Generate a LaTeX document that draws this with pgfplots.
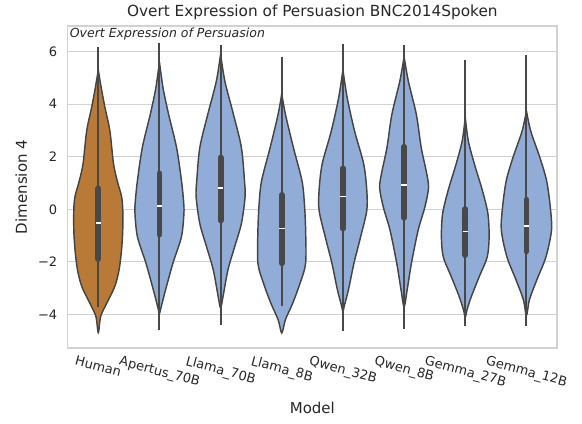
\documentclass[border=0pt]{standalone}
\usepackage{fontspec}
\setmainfont{DejaVu Sans}[ItalicFont={DejaVu Sans Oblique}]
\usepackage{graphicx}
\usepackage{pgfplots}
\pgfplotsset{compat=1.18}
\definecolor{vblue}{RGB}{146,172,216}
\definecolor{horange}{RGB}{186,122,55}
\definecolor{edgegray}{RGB}{68,68,68}
\definecolor{boxgray}{RGB}{72,72,72}
\definecolor{gridgray}{RGB}{210,210,210}
\definecolor{textgray}{RGB}{38,38,38}

\begin{document}
\begin{tikzpicture}
\begin{axis}[
  width=489.3pt, height=322pt, scale only axis,
  xmin=-0.5, xmax=7.5, ymin=-5.27, ymax=6.97,
  xtick={0,1,...,7},
  xticklabels={\rotatebox{-15}{Human},\rotatebox{-15}{Apertus\_70B},\rotatebox{-15}{Llama\_70B},\rotatebox{-15}{Llama\_8B},\rotatebox{-15}{Qwen\_32B},\rotatebox{-15}{Qwen\_8B},\rotatebox{-15}{Gemma\_27B},\rotatebox{-15}{Gemma\_12B}},
  ytick={-4,-2,0,2,4,6},
  yticklabels={−4,−2,0,2,4,6},
  ymajorgrids,
  grid style={line width=1pt, color=gridgray},
  axis line style={line width=1.25pt, color=gridgray},
  major tick length=0pt,
  tick style={draw=none},
  xticklabel style={anchor=north, font=\fontsize{13}{15}\selectfont, text=textgray, yshift=-4pt},
  yticklabel style={font=\fontsize{13}{15}\selectfont, text=textgray, xshift=-7pt},
  title={Overt Expression of Persuasion BNC2014Spoken},
  title style={font=\fontsize{15.3}{18}\selectfont, text=textgray, yshift=-3pt},
  xlabel={Model},
  ylabel={Dimension 4},
  label style={font=\fontsize{15}{18}\selectfont, text=textgray},
  every axis x label/.append style={yshift=-6pt},
  every axis y label/.append style={yshift=4pt},
  unbounded coords=jump,
]
% violins
\addplot[smooth, fill=horange, draw=edgegray, line width=1.45pt] coordinates {
(0,5.3)(0.05,4.6)(0.11,3.86)(0.19,2.98)(0.25,1.72)(0.32,1.0)(0.38,0.5)(0.40,0.0)(0.40,-0.8)(0.38,-1.55)(0.34,-2.3)(0.27,-2.93)(0.14,-3.56)(0.04,-4.06)(0,-4.69)
(-0.04,-4.06)(-0.14,-3.56)(-0.27,-2.93)(-0.34,-2.3)(-0.38,-1.55)(-0.40,-0.8)(-0.40,0.0)(-0.38,0.5)(-0.32,1.0)(-0.25,1.72)(-0.19,2.98)(-0.11,3.86)(-0.05,4.6)(0,5.3)};
\addplot[smooth, fill=vblue, draw=edgegray, line width=1.45pt] coordinates {
(1,5.6)(1.06,4.6)(1.15,3.61)(1.28,2.35)(1.36,1.09)(1.395,0.3)(1.40,-0.16)(1.36,-1.04)(1.22,-2.05)(1.10,-3.06)(1.03,-3.69)(1,-3.95)
(0.97,-3.69)(0.90,-3.06)(0.78,-2.05)(0.64,-1.04)(0.60,-0.16)(0.605,0.3)(0.64,1.09)(0.72,2.35)(0.85,3.61)(0.94,4.6)(1,5.6)};
\addplot[smooth, fill=vblue, draw=edgegray, line width=1.45pt] coordinates {
(2,5.9)(2.07,4.87)(2.21,3.61)(2.34,2.35)(2.39,1.09)(2.40,0.47)(2.34,-0.54)(2.23,-1.42)(2.12,-2.3)(2.04,-3.31)(2,-3.75)
(1.96,-3.31)(1.88,-2.3)(1.77,-1.42)(1.66,-0.54)(1.60,0.47)(1.61,1.09)(1.66,2.35)(1.79,3.61)(1.93,4.87)(2,5.9)};
\addplot[smooth, fill=vblue, draw=edgegray, line width=1.45pt] coordinates {
(3,4.4)(3.06,3.61)(3.19,2.35)(3.33,1.09)(3.37,0.22)(3.39,-0.79)(3.39,-2.05)(3.30,-2.8)(3.18,-3.56)(3.06,-4.19)(3,-4.7)
(2.94,-4.19)(2.82,-3.56)(2.70,-2.8)(2.61,-2.05)(2.61,-0.79)(2.63,0.22)(2.67,1.09)(2.81,2.35)(2.94,3.61)(3,4.4)};
\addplot[smooth, fill=vblue, draw=edgegray, line width=1.45pt] coordinates {
(4,5.3)(4.07,4.24)(4.19,2.98)(4.34,1.72)(4.39,0.72)(4.39,-0.04)(4.29,-1.04)(4.18,-2.05)(4.09,-3.06)(4.02,-3.69)(4,-3.9)
(3.98,-3.69)(3.91,-3.06)(3.82,-2.05)(3.71,-1.04)(3.61,-0.04)(3.61,0.72)(3.66,1.72)(3.81,2.98)(3.93,4.24)(4,5.3)};
\addplot[smooth, fill=vblue, draw=edgegray, line width=1.45pt] coordinates {
(5,5.8)(5.07,4.87)(5.20,3.61)(5.28,2.35)(5.36,1.47)(5.40,0.84)(5.34,0.09)(5.23,-0.79)(5.12,-2.05)(5.05,-3.06)(5,-3.7)
(4.95,-3.06)(4.88,-2.05)(4.77,-0.79)(4.66,0.09)(4.60,0.84)(4.64,1.47)(4.72,2.35)(4.80,3.61)(4.93,4.87)(5,5.8)};
\addplot[smooth, fill=vblue, draw=edgegray, line width=1.45pt] coordinates {
(6,3.5)(6.05,2.6)(6.15,1.72)(6.28,0.72)(6.37,-0.16)(6.39,-1.04)(6.36,-1.8)(6.23,-2.55)(6.10,-3.31)(6.03,-3.81)(6,-4.1)
(5.97,-3.81)(5.90,-3.31)(5.77,-2.55)(5.64,-1.8)(5.61,-1.04)(5.63,-0.16)(5.72,0.72)(5.85,1.72)(5.95,2.6)(6,3.5)};
\addplot[smooth, fill=vblue, draw=edgegray, line width=1.45pt] coordinates {
(7,3.75)(7.07,2.98)(7.22,1.97)(7.33,1.09)(7.39,0.09)(7.41,-0.79)(7.32,-1.8)(7.17,-2.68)(7.05,-3.43)(7,-4.03)
(6.95,-3.43)(6.83,-2.68)(6.68,-1.8)(6.59,-0.79)(6.61,0.09)(6.67,1.09)(6.78,1.97)(6.93,2.98)(7,3.75)};
% whiskers
\addplot[boxgray, line width=2pt] coordinates {
(0,6.18)(0,-3.7)(0,nan)(1,6.31)(1,-4.57)(1,nan)(2,6.25)(2,-4.38)(2,nan)(3,5.81)(3,-3.69)(3,nan)
(4,6.28)(4,-4.63)(4,nan)(5,6.23)(5,-4.53)(5,nan)(6,5.66)(6,-4.44)(6,nan)(7,5.85)(7,-4.44)};
% boxes
\addplot[boxgray, line width=5.8pt, line cap=round] coordinates {
(0,0.8)(0,-1.89)(0,nan)(1,1.37)(1,-0.96)(1,nan)(2,1.97)(2,-0.42)(2,nan)(3,0.55)(3,-2.05)(3,nan)
(4,1.56)(4,-0.73)(4,nan)(5,2.38)(5,-0.32)(5,nan)(6,0.01)(6,-1.74)(6,nan)(7,0.37)(7,-1.60)};
% medians
\addplot[white, line width=1.3pt] coordinates {
(-0.045,-0.52)(0.045,-0.52)(0,nan)(0.955,0.13)(1.045,0.13)(1,nan)(1.955,0.81)(2.045,0.81)(2,nan)
(2.955,-0.74)(3.045,-0.74)(3,nan)(3.955,0.50)(4.045,0.50)(4,nan)(4.955,0.93)(5.045,0.93)(5,nan)
(5.955,-0.84)(6.045,-0.84)(6,nan)(6.955,-0.63)(7.045,-0.63)};
\node[anchor=north west, inner sep=1pt, font=\itshape\fontsize{12.5}{14}\selectfont, text=textgray]
  at (rel axis cs:0.002,0.997) {Overt Expression of Persuasion};
\end{axis}
\pgfresetboundingbox
\path (current axis.south west) ++(-67.7pt,-75pt) coordinate (bl);
\path (current axis.north east) ++(25pt,26pt) coordinate (tr);
\path (bl) rectangle (tr);
\end{tikzpicture}
\end{document}
